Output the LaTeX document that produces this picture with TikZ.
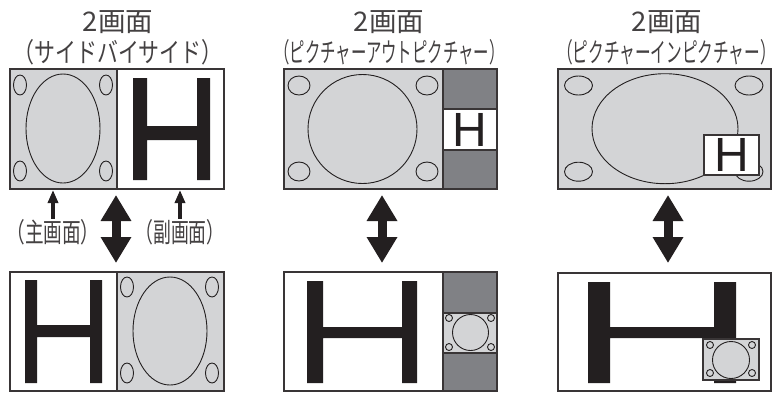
\documentclass[tikz,border=0pt]{standalone}
\usepackage{fontspec}
\usepackage{graphicx}
\newfontfamily\jpfont{Noto Sans CJK JP}
\newfontfamily\hfont{Liberation Sans}
\usetikzlibrary{arrows.meta}
\definecolor{scrgray}{HTML}{D3D4D6}
\definecolor{bargray}{HTML}{808185}
\definecolor{ink}{HTML}{231F20}

\begin{document}
\begin{tikzpicture}[x=1pt,y=-1pt,
  frame/.style={draw=ink!90,line width=1.4pt},
  ring/.style={draw=ink,line width=0.9pt},
  hbar/.style={fill=ink},
  htext/.style={font=\hfont\fontsize{48}{48}\selectfont,text=ink,inner sep=0pt},
  jtext/.style={font=\jpfont\fontsize{27}{27}\selectfont,text=ink!85,inner sep=0pt},
  dblarrow/.style={draw=ink,line width=9pt,{Triangle[length=26pt,width=29pt]}-{Triangle[length=26pt,width=29pt]}},
  uparrow/.style={draw=ink,line width=3.2pt,-{Triangle[length=13pt,width=10pt]}}]
\useasboundingbox (0,0) rectangle (783,392);

% titles
\node[jtext] (t1) at (118,22) {\scalebox{1.02}[1]{2画面}};
\node[jtext] (t2) at (389,22) {\scalebox{1.02}[1]{2画面}};
\node[jtext] (t3) at (667,22) {\scalebox{1.02}[1]{2画面}};
\node[jtext] (s1) at (118,52) {\scalebox{0.775}[1]{（サイドバイサイド）}};
\node[jtext] (s2) at (389.5,52) {\scalebox{0.57}[1]{（ピクチャーアウトピクチャー）}};
\node[jtext] (s3) at (666.5,52) {\scalebox{0.58}[1]{（ピクチャーインピクチャー）}};

% side by side, top
\fill[scrgray] (10,69) rectangle (117,189);
\draw[ring] (63,128.5) ellipse [x radius=37,y radius=54.5];
\foreach \cx/\cy in {20/85,106/85,20/171,106/171}
  \draw[ring] (\cx,\cy) ellipse [x radius=6.5,y radius=10];
\fill[hbar] (133,78) rectangle (147,180) (197,78) rectangle (210,180) (147,126) rectangle (197,140);
\draw[frame] (10,69) rectangle (224,189) (117,69) -- (117,189);
\coordinate (m1) at (53,190);
\coordinate (m2) at (180,190);

% side by side, bottom
\fill[scrgray] (117,272) rectangle (224,391);
\draw[ring] (170,331) ellipse [x radius=37,y radius=54];
\foreach \cx/\cy in {127/287,212/287,127/373,212/373}
  \draw[ring] (\cx,\cy) ellipse [x radius=6.5,y radius=10];
\fill[hbar] (25,280) rectangle (37,383) (90,280) rectangle (102,383) (37,325) rectangle (90,337);
\draw[frame] (10,272) rectangle (224,391) (117,272) -- (117,391);

% labels
\node[jtext] (lmain) at (53,232) {\scalebox{0.69}[1]{（主画面）}};
\node[jtext] (lsub) at (180,232) {\scalebox{0.66}[1]{（副画面）}};
\draw[uparrow] (lmain.north) -- (m1);
\draw[uparrow] (lsub.north) -- (m2);

% picture out picture, top
\fill[scrgray] (284,69) rectangle (443,189);
\fill[bargray] (443,69) rectangle (497,189);
\fill[white] (443,109) rectangle (497,150);
\draw[ring] (362.5,129) circle [radius=54.5];
\foreach \cx/\cy in {299/85.5,427/85.5,299/171.5,427/171.5}
  \draw[ring] (\cx,\cy) ellipse [x radius=11,y radius=9.5];
\node[htext] (h2) at (470,129.5) {H};
\draw[frame] (284,69) rectangle (497,189) (443,69) -- (443,189)
  (443,109) -- (497,109) (443,150) -- (497,150);

% picture out picture, bottom
\fill[bargray] (443,272) rectangle (497,391);
\fill[scrgray] (443,313) rectangle (497,353);
\draw[ring] (470.5,332.5) circle [radius=18];
\foreach \cx/\cy in {449/318,491/318,449/347,491/347}
  \draw[ring] (\cx,\cy) circle [radius=3.5];
\fill[hbar] (307,281) rectangle (323,383) (402,281) rectangle (417,383) (323,327) rectangle (402,338);
\draw[frame] (284,272) rectangle (497,391) (443,272) -- (443,391)
  (443,313) -- (497,313) (443,353) -- (497,353);

% picture in picture, top
\fill[scrgray] (558,69) rectangle (771,189);
\draw[ring] (665,128.7) ellipse [x radius=73,y radius=55];
\foreach \cx/\cy in {578.5/85.5,749/85.5,578.5/171.7,749/171.7}
  \draw[ring] (\cx,\cy) ellipse [x radius=14,y radius=9.5];
\draw[frame,fill=white] (704,135) rectangle (759,175);
\node[htext] (h3) at (731.5,155) {H};
\draw[frame] (558,69) rectangle (771,189);

% picture in picture, bottom
\fill[hbar] (588,282) rectangle (610,383) (714,282) rectangle (736,383) (610,327) rectangle (714,338);
\draw[frame,fill=scrgray] (703,339) rectangle (759,380);
\draw[ring] (731,360) circle [radius=18.5];
\foreach \cx/\cy in {710/345,752/345,710/373,752/373}
  \draw[ring] (\cx,\cy) circle [radius=3.5];
\draw[frame] (558,273) rectangle (771,391);

% swap arrows
\coordinate (a1t) at (116,195);
\coordinate (a1b) at (116,263);
\coordinate (a2t) at (382,195);
\coordinate (a2b) at (382,263);
\coordinate (a3t) at (668,195);
\coordinate (a3b) at (668,263);
\draw[dblarrow] (a1t) -- (a1b);
\draw[dblarrow] (a2t) -- (a2b);
\draw[dblarrow] (a3t) -- (a3b);
\end{tikzpicture}
\end{document}
